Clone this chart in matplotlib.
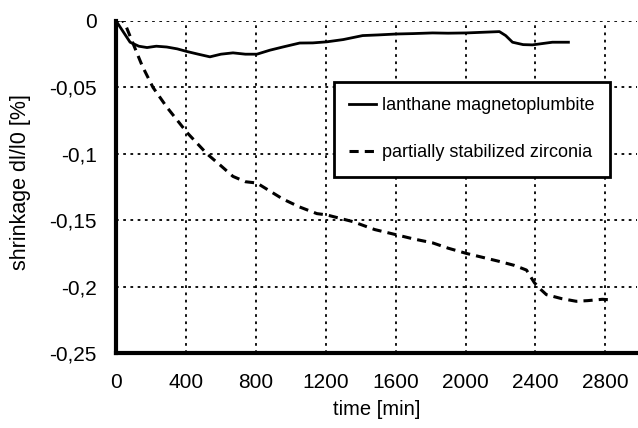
import matplotlib
matplotlib.use('Agg')
import matplotlib.pyplot as plt

plt.rcParams['font.family'] = ['Liberation Sans', 'DejaVu Sans']

# lanthane magnetoplumbite (solid)
t_lm = [0, 40, 80, 130, 177, 230, 290, 350, 406, 470, 537, 600, 669, 740, 806, 880, 954, 1051,
        1126, 1206, 1300, 1411, 1500, 1606, 1700, 1811, 1900, 2006, 2100, 2194, 2230, 2269,
        2330, 2383, 2440, 2497, 2589]
s_lm = [0, -0.008, -0.016, -0.019, -0.020, -0.019, -0.0196, -0.021, -0.023, -0.025, -0.027,
        -0.025, -0.024, -0.025, -0.025, -0.022, -0.0196, -0.0166, -0.0165, -0.0157, -0.014,
        -0.011, -0.0105, -0.0098, -0.0095, -0.009, -0.0092, -0.009, -0.0085, -0.008, -0.011,
        -0.016, -0.0178, -0.018, -0.017, -0.016, -0.016]

# partially stabilized zirconia (dashed)
t_psz = [0, 34, 60, 97, 150, 211, 291, 406, 520, 600, 669, 740, 806, 880, 954, 1050, 1149,
         1206, 1354, 1480, 1606, 1700, 1811, 1900, 2006, 2100, 2194, 2280, 2349, 2394, 2430,
         2463, 2550, 2634, 2700, 2783, 2840]
s_psz = [0, 0.001, -0.005, -0.017, -0.034, -0.050, -0.065, -0.084, -0.100, -0.109, -0.117,
         -0.121, -0.122, -0.128, -0.134, -0.140, -0.145, -0.146, -0.151, -0.157, -0.161,
         -0.164, -0.167, -0.171, -0.175, -0.178, -0.181, -0.184, -0.1875, -0.197, -0.202,
         -0.206, -0.209, -0.211, -0.2105, -0.2095, -0.210]

xticks = [0, 400, 800, 1200, 1600, 2000, 2400, 2800]
yticks = [0, -0.05, -0.1, -0.15, -0.2, -0.25]
ylabels = ['0', '-0,05', '-0,1', '-0,15', '-0,2', '-0,25']

fig = plt.figure(figsize=(6.38, 4.28), dpi=100)
ax = fig.add_axes([0.182, 0.175, 0.816, 0.776])

ax.plot(t_lm, s_lm, color='black', linewidth=2, linestyle='-', label='lanthane magnetoplumbite')
ax.plot(t_psz, s_psz, color='black', linewidth=2.2, linestyle=(0, (3, 2)),
        label='partially stabilized zirconia')

ax.set_xlim(0, 2980)
ax.set_ylim(-0.25, 0)
ax.set_xticks(xticks)
ax.set_yticks(yticks)
ax.set_yticklabels(ylabels)
ax.tick_params(length=0, labelsize=15)
ax.tick_params(axis='x', pad=14)
ax.tick_params(axis='y', pad=14)
ax.grid(True, color='black', linestyle=(0, (1.5, 2.5)), linewidth=1.3)

for side in ['top', 'right']:
    ax.spines[side].set_visible(False)
ax.spines['left'].set_linewidth(3)
ax.spines['bottom'].set_linewidth(3)

ax.set_xlabel('time [min]', fontsize=14.5, labelpad=6)
ax.set_ylabel('shrinkage dl/l0 [%]', fontsize=15.5)
ax.yaxis.set_label_coords(-0.163, 0.515)

leg = ax.legend(loc='upper left', bbox_to_anchor=(0.4176, 0.816), borderaxespad=0,
                fontsize=13, frameon=True, fancybox=False, edgecolor='black',
                handlelength=1.5, handletextpad=0.35, labelspacing=1.65,
                borderpad=0.85, framealpha=1)
leg.get_frame().set_linewidth(2)

fig.savefig('out.png', dpi=100)
